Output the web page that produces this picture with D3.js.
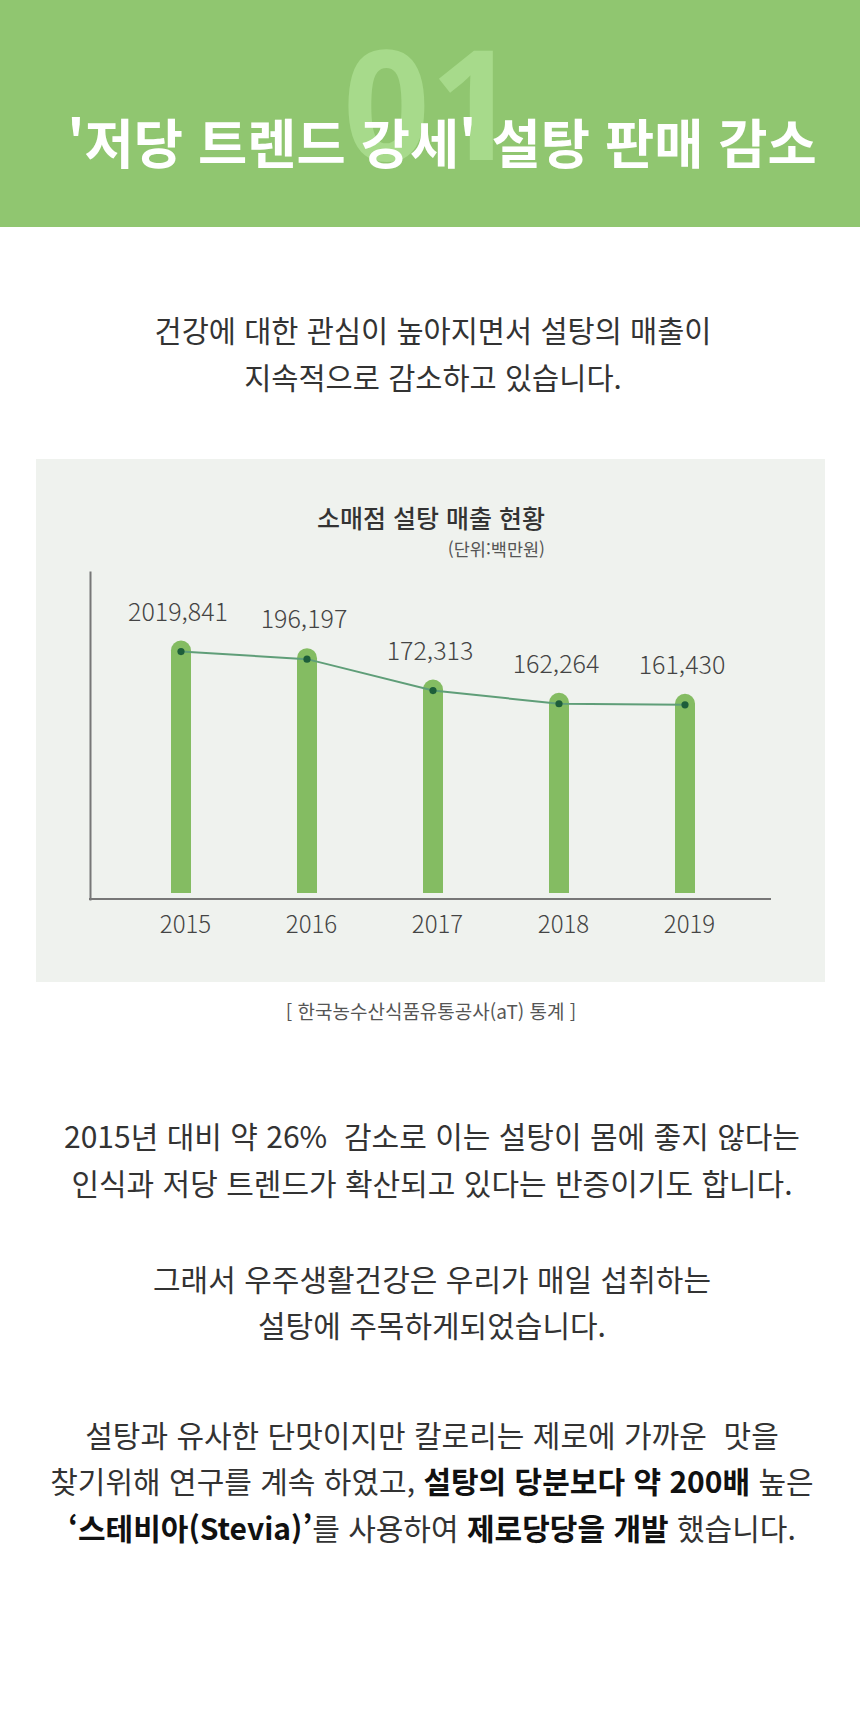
<!DOCTYPE html>
<html lang="ko">
<head>
    <meta charset="UTF-8">
    <title>저당 트렌드 강세 설탕 판매 감소</title>
    <style>
        html, body { margin: 0; padding: 0; background: #fff; }
        #page { width: 860px; height: 1720px; }
        svg text { font-family: "Noto Sans CJK KR", "Noto Sans", sans-serif; white-space: pre; }
    </style>
</head>
<body>
    <div id="page"></div>
    <script src="https://d3js.org/d3.v7.min.js"></script>
    <script>
        // chart data
        const years = ["2015", "2016", "2017", "2018", "2019"];
        const sales = [201984, 196197, 172313, 162264, 161430];
        const salesLabels = ["2019,841", "196,197", "172,313", "162,264", "161,430"];

        const chartTitle = "소매점 설탕 매출 현황";
        const unitText = "(단위:백만원)";
        const sourceText = "[ 한국농수산식품유통공사(aT) 통계 ]";

        // page text (segments marked b are bold)
        const introLines = [
            "건강에 대한 관심이 높아지면서 설탕의 매출이",
            "지속적으로 감소하고 있습니다."
        ];
        const bodyLines = [
            [[ "2015년 대비 약 26%  감소로 이는 설탕이 몸에 좋지 않다는" ]],
            [[ "인식과 저당 트렌드가 확산되고 있다는 반증이기도 합니다." ]],
            [[ "그래서 우주생활건강은 우리가 매일 섭취하는" ]],
            [[ "설탕에 주목하게되었습니다." ]],
            [[ "설탕과 유사한 단맛이지만 칼로리는 제로에 가까운  맛을" ]],
            [[ "찾기위해 연구를 계속 하였고, " ], [ "설탕의 당분보다 약 200배", "b" ], [ " 높은" ]],
            [[ "‘스테비아(Stevia)’", "b" ], [ "를 사용하여 " ], [ "제로당당을 개발", "b" ], [ " 했습니다." ]]
        ];
        // baseline of each body line
        const bodyY = [1148, 1195, 1291, 1337, 1447, 1493, 1540];

        const W = 860, H = 1720;
        const svg = d3.select("#page").append("svg")
            .attr("width", W)
            .attr("height", H);

        // header
        svg.append("rect")
            .attr("x", 0).attr("y", 0)
            .attr("width", W).attr("height", 227)
            .attr("fill", "#90c670");

        svg.append("text")
            .attr("x", 430).attr("y", 160)
            .attr("text-anchor", "middle")
            .attr("font-size", 152)
            .attr("font-weight", 700)
            .attr("fill", "#a7da8b")
            .style("font-family", "'Noto Sans', sans-serif")
            .text("01");

        svg.append("text")
            .attr("x", 442).attr("y", 164)
            .attr("text-anchor", "middle")
            .attr("font-size", 53.5)
            .attr("font-weight", 700)
            .attr("fill", "#fff")
            .text("'저당 트렌드 강세' 설탕 판매 감소");

        // intro
        svg.selectAll(".intro")
            .data(introLines)
            .join("text")
            .attr("class", "intro")
            .attr("x", 433)
            .attr("y", (d, i) => 342 + i * 47)
            .attr("text-anchor", "middle")
            .attr("font-size", 29.5)
            .attr("fill", "#333")
            .text(d => d);

        // chart panel
        svg.append("rect")
            .attr("x", 36).attr("y", 459)
            .attr("width", 789).attr("height", 523)
            .attr("fill", "#eff2ee");

        svg.append("text")
            .attr("x", 431).attr("y", 528)
            .attr("text-anchor", "middle")
            .attr("font-size", 25)
            .attr("font-weight", 500)
            .attr("fill", "#333")
            .text(chartTitle);

        svg.append("text")
            .attr("x", 545).attr("y", 556)
            .attr("text-anchor", "end")
            .attr("font-size", 17.5)
            .attr("fill", "#555")
            .text(unitText);

        const x = d3.scalePoint()
            .domain(years)
            .range([181, 685]);

        const y = d3.scaleLinear()
            .domain([0, 210000])
            .range([917, 641]);

        const barW = 20, barBottom = 893;

        // axes
        const axisY = d3.axisLeft(d3.scaleLinear().range([900, 571]))
            .ticks(0).tickSize(0);
        svg.append("g")
            .attr("transform", "translate(90,0)")
            .call(axisY)
            .call(g => g.select(".domain").attr("stroke", "#777").attr("stroke-width", 2));

        const axisX = d3.axisBottom(x).tickSize(0).tickPadding(0);
        svg.append("g")
            .attr("transform", "translate(0,899)")
            .call(axisX)
            .call(g => g.select(".domain")
                .attr("d", "M89,0H771")
                .attr("stroke", "#777").attr("stroke-width", 2))
            .call(g => g.selectAll(".tick text")
                .attr("dx", 4)
                .attr("y", 34)
                .attr("dy", 0)
                .attr("font-size", 24)
                .attr("font-weight", 300)
                .attr("fill", "#444")
                .style("font-family", "'Noto Sans CJK KR', sans-serif"));

        const rows = years.map((yr, i) => ({ year: yr, value: sales[i], label: salesLabels[i] }));

        // bars with rounded tops
        svg.selectAll(".bar")
            .data(rows)
            .join("path")
            .attr("class", "bar")
            .attr("fill", "#84bc62")
            .attr("d", d => {
                const cx = x(d.year), r = barW / 2;
                const top = y(d.value) - 11;
                return `M${cx - r},${barBottom}V${top + r}A${r},${r} 0 0 1 ${cx + r},${top + r}V${barBottom}Z`;
            });

        svg.append("path")
            .datum(rows)
            .attr("fill", "none")
            .attr("stroke", "#5f9e78")
            .attr("stroke-width", 2)
            .attr("d", d3.line()
                .x(d => x(d.year))
                .y(d => y(d.value)));

        svg.selectAll(".dot")
            .data(rows)
            .join("circle")
            .attr("class", "dot")
            .attr("cx", d => x(d.year))
            .attr("cy", d => y(d.value))
            .attr("r", 3.6)
            .attr("fill", "#1d5e3a");

        svg.selectAll(".val")
            .data(rows)
            .join("text")
            .attr("class", "val")
            .attr("x", d => x(d.year) - 3)
            .attr("y", d => y(d.value) - 31)
            .attr("text-anchor", "middle")
            .attr("font-size", 25)
            .attr("font-weight", 300)
            .attr("fill", "#444")
            .text(d => d.label);

        svg.append("text")
            .attr("x", 431).attr("y", 1019)
            .attr("text-anchor", "middle")
            .attr("font-size", 19)
            .attr("fill", "#555")
            .text(sourceText);

        // body paragraphs
        bodyLines.forEach((line, i) => {
            const t = svg.append("text")
                .attr("x", 432).attr("y", bodyY[i])
                .attr("text-anchor", "middle")
                .attr("font-size", 30)
                .attr("fill", "#333");
            line.forEach(seg => {
                t.append("tspan")
                    .attr("font-weight", seg[1] === "b" ? 700 : 400)
                    .attr("fill", seg[1] === "b" ? "#111" : "#333")
                    .text(seg[0]);
            });
        });
    </script>
</body>
</html>
